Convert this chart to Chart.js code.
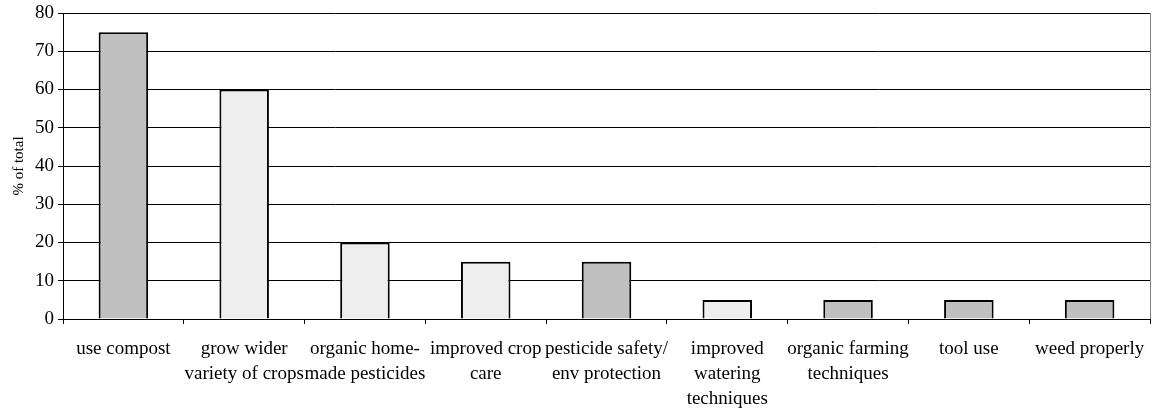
<!DOCTYPE html>
<html>
<head>
<meta charset="utf-8">
<script src="https://cdn.jsdelivr.net/npm/chart.js@4"></script>
<style>
html,body{margin:0;padding:0;background:#fff;}
#wrap{width:1156px;height:408px;}
</style>
</head>
<body>
<div id="wrap"><canvas id="c" width="1156" height="408"></canvas></div>
<script>
const categories = [
  ["use compost"],
  ["grow wider", "variety of crops"],
  ["organic home-", "made pesticides"],
  ["improved crop", "care"],
  ["pesticide safety/", "env protection"],
  ["improved", "watering", "techniques"],
  ["organic farming", "techniques"],
  ["tool use"],
  ["weed properly"]
];
const values = [75, 60, 20, 15, 15, 5, 5, 5, 5];
const barColors = ["#c0c0c0", "#eeeeee", "#eeeeee", "#eeeeee", "#c0c0c0", "#eeeeee", "#c0c0c0", "#c0c0c0", "#c0c0c0"];
const yTicks = [0, 10, 20, 30, 40, 50, 60, 70, 80];
const yTitle = "% of total";

const font = "'Liberation Serif', 'Times New Roman', serif";

const borderPlugin = {
  id: 'rightBorder',
  afterDraw(chart) {
    const a = chart.chartArea, ctx = chart.ctx;
    ctx.save();
    ctx.strokeStyle = '#808080';
    ctx.lineWidth = 1;
    ctx.beginPath();
    ctx.moveTo(a.right + 0.5, a.top);
    ctx.lineTo(a.right + 0.5, a.bottom);
    ctx.stroke();
    ctx.restore();
  }
};

new Chart(document.getElementById('c'), {
  type: 'bar',
  data: {
    labels: categories,
    datasets: [{
      data: values,
      backgroundColor: barColors,
      borderColor: '#000',
      borderWidth: 2,
      categoryPercentage: 1,
      barPercentage: 0.41
    }]
  },
  options: {
    responsive: false,
    animation: false,
    devicePixelRatio: 1,
    layout: { padding: { top: 13, right: 6, left: 0, bottom: 0 } },
    plugins: { legend: { display: false }, tooltip: { enabled: false } },
    scales: {
      x: {
        offset: true,
        grid: { display: true, drawOnChartArea: false, drawTicks: true, tickLength: 5, color: '#000', offset: true },
        border: { display: true, color: '#000', width: 1 },
        ticks: { color: '#000', font: { family: font, size: 19, lineHeight: 1.3 }, maxRotation: 0, minRotation: 0, autoSkip: false, padding: 13 },
        afterFit(s) { s.height = 89; s.paddingLeft = 0; s.paddingRight = 0; }
      },
      y: {
        min: 0, max: 80,
        afterBuildTicks(s) { s.ticks = yTicks.map(v => ({ value: v })); },
        grid: { color: '#000', lineWidth: 1, drawTicks: true, tickLength: 5 },
        border: { display: true, color: '#000', width: 1 },
        ticks: { color: '#000', font: { family: font, size: 19 }, padding: 4 },
        title: { display: true, text: yTitle, color: '#000', font: { family: font, size: 15 }, padding: { top: 10, bottom: 2 } },
        afterFit(s) { s.width = 63; s.paddingTop = 0; s.paddingBottom = 0; }
      }
    }
  },
  plugins: [borderPlugin]
});
</script>
</body>
</html>
